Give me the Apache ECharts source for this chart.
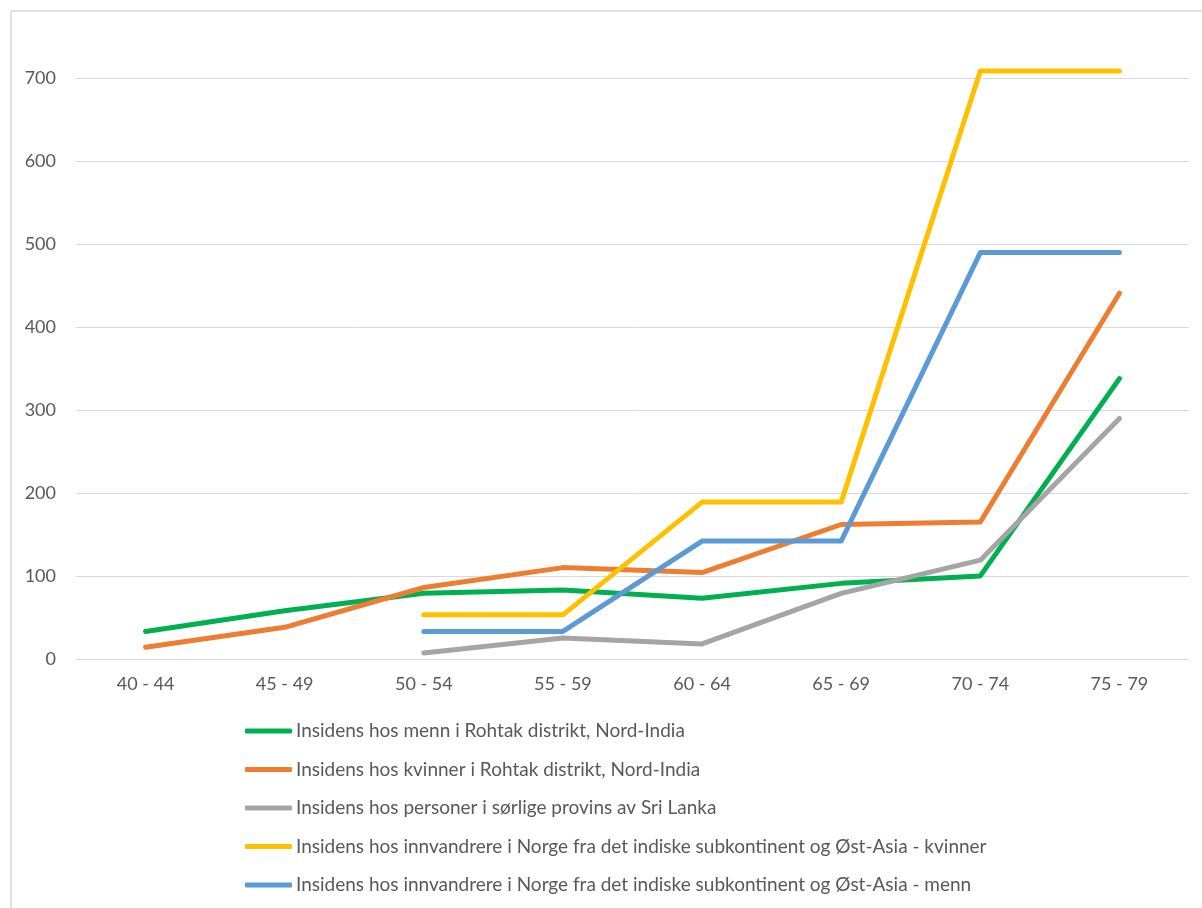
<!DOCTYPE html>
<html>
<head>
<meta charset="utf-8">
<script src="https://cdn.jsdelivr.net/npm/echarts@6/dist/echarts.min.js"></script>
<style>
  html, body { margin: 0; padding: 0; background: #ffffff; overflow: hidden; }
  /* canvas extends 20px above the page so the 800 gridline sits just off-screen */
  #chart { position: absolute; left: 0; top: -20px; width: 1202px; height: 928px; }
</style>
</head>
<body>
<div id="chart"></div>
<script>
// Age groups along the x axis
const ageGroups = ['40 - 44', '45 - 49', '50 - 54', '55 - 59', '60 - 64', '65 - 69', '70 - 74', '75 - 79'];

// Incidence per age group (null where no figure exists)
const menRohtak = [33, 58, 79, 83, 73, 91, 100, 338];
const womenRohtak = [14, 38, 86, 110, 104, 162, 165, 441];
const sriLankaSouth = [null, null, 7, 25, 18, 79, 119, 290];
const immigrantsWomen = [null, null, 53, 53, 189, 189, 709, 709];
const immigrantsMen = [null, null, 33, 33, 142, 142, 490, 490];

// Legend / series names
const seriesNames = [
  'Insidens hos menn i Rohtak distrikt, Nord-India',
  'Insidens hos kvinner i Rohtak distrikt, Nord-India',
  'Insidens hos personer i sørlige provins av Sri Lanka',
  'Insidens hos innvandrere i Norge fra det indiske subkontinent og Øst-Asia - kvinner',
  'Insidens hos innvandrere i Norge fra det indiske subkontinent og Øst-Asia - menn'
];

const palette = ['#00B050', '#ED7D31', '#A5A5A5', '#FFC000', '#5B9BD5'];
const seriesData = [menRohtak, womenRohtak, sriLankaSouth, immigrantsWomen, immigrantsMen];

const FONT = 'Lato, "Open Sans", sans-serif';
const TEXT_COLOR = '#595959';
const GRID_COLOR = '#d9d9d9';
const OFFSET = 20; // canvas rows hidden above the page

const chart = echarts.init(document.getElementById('chart'), null, { renderer: 'canvas' });

chart.setOption({
  backgroundColor: '#ffffff',
  animation: false,
  color: palette,
  textStyle: { fontFamily: FONT },
  graphic: [
    {
      type: 'line',
      silent: true,
      shape: { x1: 11, y1: 11 + OFFSET, x2: 11, y2: 928 },
      style: { stroke: GRID_COLOR, lineWidth: 1.5 }
    },
    {
      type: 'line',
      silent: true,
      shape: { x1: 11, y1: 11 + OFFSET, x2: 1202, y2: 11 + OFFSET },
      style: { stroke: GRID_COLOR, lineWidth: 1.5 }
    }
  ],
  grid: {
    left: 76,
    right: 13,
    top: OFFSET - 4.4,
    bottom: 249.2,
    containLabel: false
  },
  xAxis: {
    type: 'category',
    data: ageGroups,
    boundaryGap: true,
    axisTick: { show: false },
    axisLine: { show: true, lineStyle: { color: GRID_COLOR, width: 1 } },
    axisLabel: {
      color: TEXT_COLOR,
      fontSize: 18,
      fontFamily: FONT,
      margin: 16
    },
    splitLine: { show: false }
  },
  yAxis: {
    type: 'value',
    min: 0,
    max: 800,
    interval: 100,
    axisLine: { show: false },
    axisTick: { show: false },
    axisLabel: {
      color: TEXT_COLOR,
      fontSize: 18,
      fontFamily: FONT,
      margin: 20,
      showMaxLabel: false
    },
    splitLine: { show: true, lineStyle: { color: GRID_COLOR, width: 1 } }
  },
  legend: {
    orient: 'vertical',
    left: 245,
    top: 720 + OFFSET,
    padding: 0,
    itemWidth: 47,
    itemHeight: 5,
    itemGap: 16.5,
    icon: 'roundRect',
    textStyle: {
      color: TEXT_COLOR,
      fontSize: 19,
      fontFamily: FONT,
      lineHeight: 22,
      padding: [0, 0, 0, -1]
    },
    data: seriesNames
  },
  series: seriesNames.map((name, i) => ({
    name: name,
    type: 'line',
    data: seriesData[i],
    symbol: 'none',
    connectNulls: false,
    lineStyle: { width: 5, color: palette[i], cap: 'round', join: 'round' },
    itemStyle: { color: palette[i] },
    emphasis: { disabled: true }
  }))
});
</script>
</body>
</html>
